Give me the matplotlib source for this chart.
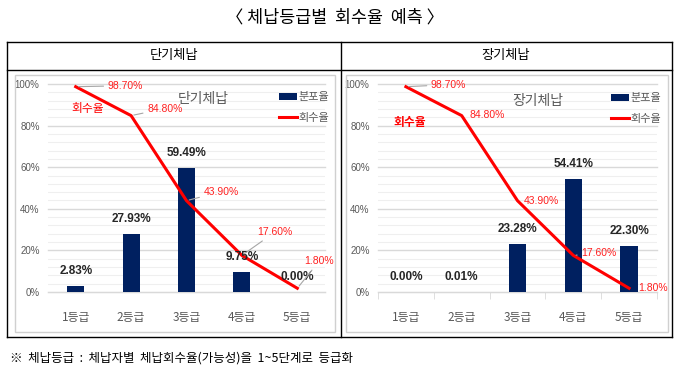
import matplotlib
matplotlib.use("Agg")
import matplotlib.pyplot as plt
from matplotlib.lines import Line2D
from matplotlib.patches import Rectangle
from matplotlib.ticker import FuncFormatter, MultipleLocator

plt.rcParams['font.family'] = ['Liberation Sans Narrow', 'Liberation Sans',
                               'Noto Sans CJK KR', 'DejaVu Sans']
KR = ['Noto Sans CJK KR', 'DejaVu Sans']

grades = ['1등급', '2등급', '3등급', '4등급', '5등급']
short_dist = [2.83, 27.93, 59.49, 9.75, 0.00]
short_rate = [98.70, 84.80, 43.90, 17.60, 1.80]
long_dist = [0.00, 0.01, 23.28, 54.41, 22.30]
long_rate = [98.70, 84.80, 43.90, 17.60, 1.80]

NAVY = '#002060'
RED = '#FF0000'
GRAY = '#595959'

W, H = 680, 381
fig = plt.figure(figsize=(W / 100, H / 100), dpi=100)


def px_box(x0, y0, x1, y1):
    # pixel box (top-left origin) -> figure fraction [l, b, w, h]
    return [x0 / W, 1 - y1 / H, (x1 - x0) / W, (y1 - y0) / H]


def fig_line(x0, y0, x1, y1, color='black', lw=1.0):
    fig.add_artist(Line2D([x0 / W, x1 / W], [1 - y0 / H, 1 - y1 / H],
                          color=color, lw=lw, transform=fig.transFigure))


# title and footnote
fig.text(335 / W, 1 - 18 / H, '〈 체납등급별  회수율  예측 〉', ha='center', va='center',
         fontsize=12.5, family=KR)
fig.text(10 / W, 1 - 358 / H, '※  체납등급  :  체납자별  체납회수율(가능성)을  1~5단계로  등급화',
         ha='left', va='center', fontsize=9, family=KR)

# table frame
fig_line(7, 42, 672, 42)
fig_line(7, 70, 672, 70)
fig_line(7, 337, 672, 337)
fig_line(7, 42, 7, 337)
fig_line(672, 42, 672, 337)
fig_line(341, 42, 341, 337)
fig.text(174 / W, 1 - 56 / H, '단기체납', ha='center', va='center', fontsize=9.5, family=KR)
fig.text(506 / W, 1 - 56 / H, '장기체납', ha='center', va='center', fontsize=9.5, family=KR)

# inner chart borders
for x0, x1 in [(15, 335), (346, 668)]:
    l, b, w, h = px_box(x0, 75, x1, 332)
    fig.add_artist(Rectangle((l, b), w, h, transform=fig.transFigure,
                             fill=False, edgecolor='#D0D0D0', lw=1.0))


def draw_panel(box, dist, rate, name, name_pos, rate_pos, rate_bold,
               leg_pos, rate_offsets, leaders, boundary_ticks):
    ax = fig.add_axes(px_box(*box))
    xs = range(len(grades))
    bars = ax.bar(xs, dist, width=0.31, color=NAVY, zorder=3, label='분포율')
    line, = ax.plot(xs, rate, color=RED, lw=2.2, zorder=4, label='회수율')

    ax.set_xlim(-0.5, 4.5)
    ax.set_ylim(0, 100)
    ax.yaxis.set_major_locator(MultipleLocator(20))
    ax.yaxis.set_minor_locator(MultipleLocator(4))
    ax.yaxis.set_major_formatter(FuncFormatter(lambda v, p: f'{v:.0f}%'))
    ax.grid(axis='y', which='major', color='#D9D9D9', lw=1.0, zorder=0)
    ax.grid(axis='y', which='minor', color='#EFEFEF', lw=0.8, zorder=0)
    for g in ax.get_ygridlines():
        g.set_clip_on(False)
    for s in ['top', 'right', 'left']:
        ax.spines[s].set_visible(False)
    ax.spines['bottom'].set_color('#D9D9D9')
    ax.set_xticks(list(xs))
    ax.set_xticklabels(grades, family=KR)
    ax.tick_params(axis='x', which='major', length=0, pad=14, labelsize=8.5,
                   labelcolor=GRAY)
    ax.tick_params(axis='y', which='both', length=0, pad=6, labelsize=7,
                   labelcolor=GRAY)
    if boundary_ticks:
        ax.set_xticks([i - 0.5 for i in range(len(grades) + 1)], minor=True)
        ax.tick_params(axis='x', which='minor', length=5, color='#D9D9D9')
    ax.set_facecolor('none')

    # bar value labels
    for i, v in enumerate(dist):
        ax.annotate(f'{v:.2f}%', (i, v), xytext=(0, 15), textcoords='offset pixels',
                    ha='center', va='center', fontsize=8.5, fontweight='bold',
                    color='#262626', zorder=6)

    # rate labels
    for i, v in enumerate(rate):
        dx, dy = rate_offsets[i]
        props = dict(arrowstyle='-', color='#A6A6A6', lw=0.8, shrinkA=1,
                     shrinkB=2) if leaders[i] else None
        ax.annotate(f'{v:.2f}%', (i, v), xytext=(dx, dy), textcoords='offset pixels',
                    ha='left', va='center', fontsize=7.5, color='#FF2020',
                    arrowprops=props, zorder=6)

    ax.text(name_pos[0], name_pos[1], name, transform=ax.transAxes, ha='center',
            va='center', fontsize=10, color=GRAY, family=KR)
    ax.text(rate_pos[0], rate_pos[1], '회수율', transform=ax.transAxes, ha='center',
            va='center', fontsize=8.5, color=RED,
            fontweight='bold' if rate_bold else 'normal', family=KR)
    leg = ax.legend(handles=[bars, line], loc='upper left', bbox_to_anchor=leg_pos,
                    frameon=False, borderpad=0, borderaxespad=0, handlelength=1.6,
                    handleheight=0.6, handletextpad=0.15, labelspacing=0.95,
                    prop={'family': KR, 'size': 8})
    for t in leg.get_texts():
        t.set_color(GRAY)
    return ax


draw_panel((48, 84, 325, 292), short_dist, short_rate, '단기체납', (0.56, 0.928),
           (0.144, 0.88), False, (0.835, 0.96),
           [(32, 1), (16, 7), (17, 9), (15, 23), (7, 27)],
           [True, True, True, True, True], False)
draw_panel((378, 84, 657, 292), long_dist, long_rate, '장기체납', (0.573, 0.918),
           (0.115, 0.817), True, (0.836, 0.955),
           [(25, 2), (8, 1), (6, 0), (8, 2), (9, 0)],
           [True, False, False, True, False], True)

fig.savefig('out.png', dpi=100)
